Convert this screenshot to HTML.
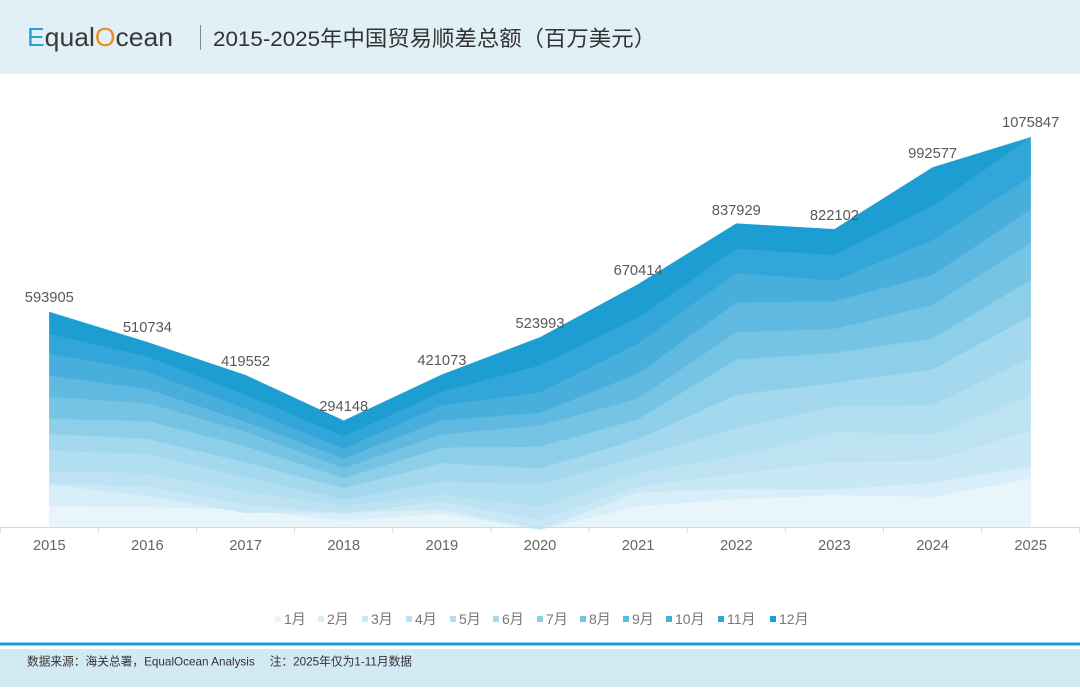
<!DOCTYPE html>
<html>
<head>
<meta charset="utf-8">
<style>
  html, body { margin: 0; padding: 0; background: #ffffff; }
  #wrap { width: 1080px; height: 697px; position: relative; overflow: hidden; background: #ffffff; }
  svg { display: block; }
  .cjk { font-family: "Liberation Sans", "Noto Sans CJK SC", sans-serif; }
</style>
</head>
<body>
<div id="wrap">
<svg width="1080" height="697" viewBox="0 0 1080 697" xmlns="http://www.w3.org/2000/svg">
  <!-- Header -->
  <rect x="0" y="0" width="1080" height="74" fill="#e1eff7"/>
  <text x="27" y="46" font-family="Liberation Sans, sans-serif" font-size="26" fill="#3a3a3a" textLength="146" lengthAdjust="spacingAndGlyphs"><tspan fill="#2a9fd8">E</tspan>qual<tspan fill="#f08c1e">O</tspan>cean</text>
  <line x1="200.5" y1="25" x2="200.5" y2="50" stroke="#8a8a8a" stroke-width="1"/>
  <text class="cjk" x="213" y="46" font-size="21.5" fill="#333333" textLength="443" lengthAdjust="spacingAndGlyphs">2015-2025年中国贸易顺差总额（百万美元）</text>

  <!-- Stacked areas -->
  <g id="areas"></g>

  <!-- Axis -->
  <line x1="0" y1="527.5" x2="1080" y2="527.5" stroke="#d9d9d9" stroke-width="1"/>
  <g stroke="#d9d9d9" stroke-width="1">
    <line x1="0.5" y1="527" x2="0.5" y2="533"/>
    <line x1="98.4" y1="527" x2="98.4" y2="533"/>
    <line x1="196.5" y1="527" x2="196.5" y2="533"/>
    <line x1="294.6" y1="527" x2="294.6" y2="533"/>
    <line x1="392.8" y1="527" x2="392.8" y2="533"/>
    <line x1="490.9" y1="527" x2="490.9" y2="533"/>
    <line x1="589.1" y1="527" x2="589.1" y2="533"/>
    <line x1="687.2" y1="527" x2="687.2" y2="533"/>
    <line x1="785.3" y1="527" x2="785.3" y2="533"/>
    <line x1="883.5" y1="527" x2="883.5" y2="533"/>
    <line x1="981.6" y1="527" x2="981.6" y2="533"/>
    <line x1="1079.5" y1="527" x2="1079.5" y2="533"/>
  </g>
  <g font-family="Liberation Sans, sans-serif" font-size="14.7" fill="#666666" text-anchor="middle">
    <text x="49.3" y="550">2015</text>
    <text x="147.4" y="550">2016</text>
    <text x="245.6" y="550">2017</text>
    <text x="343.7" y="550">2018</text>
    <text x="441.9" y="550">2019</text>
    <text x="540" y="550">2020</text>
    <text x="638.1" y="550">2021</text>
    <text x="736.3" y="550">2022</text>
    <text x="834.4" y="550">2023</text>
    <text x="932.6" y="550">2024</text>
    <text x="1030.7" y="550">2025</text>
  </g>

  <!-- Data labels -->
  <g font-family="Liberation Sans, sans-serif" font-size="14.7" fill="#595959" text-anchor="middle">
    <text x="49.3" y="302">593905</text>
    <text x="147.4" y="332">510734</text>
    <text x="245.6" y="366">419552</text>
    <text x="343.7" y="411">294148</text>
    <text x="441.9" y="365">421073</text>
    <text x="540" y="328">523993</text>
    <text x="638.1" y="275">670414</text>
    <text x="736.3" y="215">837929</text>
    <text x="834.4" y="220">822102</text>
    <text x="932.6" y="158">992577</text>
    <text x="1030.7" y="127">1075847</text>
  </g>

  <!-- Legend -->
  <g class="cjk" font-size="14" fill="#777777">
    <rect x="275" y="616" width="6" height="6" fill="#e8f5fa"/><text x="284" y="624">1月</text>
    <rect x="318" y="616" width="6" height="6" fill="#d8eef8"/><text x="327" y="624">2月</text>
    <rect x="362" y="616" width="6" height="6" fill="#c9e8f5"/><text x="371" y="624">3月</text>
    <rect x="406" y="616" width="6" height="6" fill="#bde3f2"/><text x="415" y="624">4月</text>
    <rect x="450" y="616" width="6" height="6" fill="#b1def0"/><text x="459" y="624">5月</text>
    <rect x="493" y="616" width="6" height="6" fill="#a4d8ee"/><text x="502" y="624">6月</text>
    <rect x="537" y="616" width="6" height="6" fill="#8dcee9"/><text x="546" y="624">7月</text>
    <rect x="580" y="616" width="6" height="6" fill="#76c4e4"/><text x="589" y="624">8月</text>
    <rect x="623" y="616" width="6" height="6" fill="#5fb9e0"/><text x="632" y="624">9月</text>
    <rect x="666" y="616" width="6" height="6" fill="#48afdc"/><text x="675" y="624">10月</text>
    <rect x="718" y="616" width="6" height="6" fill="#32a6d8"/><text x="727" y="624">11月</text>
    <rect x="770" y="616" width="6" height="6" fill="#1c9ed3"/><text x="779" y="624">12月</text>
  </g>

  <!-- Footer -->
  <rect x="0" y="642.5" width="1080" height="3" fill="#1e9dd8"/>
  <rect x="0" y="649" width="1080" height="38" fill="#d3eaf4"/>
  <text class="cjk" x="27" y="665.5" font-size="12" fill="#333333" textLength="385" lengthAdjust="spacingAndGlyphs">数据来源：海关总署，EqualOcean Analysis　 注：2025年仅为1-11月数据</text>
</svg>
</div>
<script>
(function(){
  var X = [49.3,147.44,245.58,343.72,441.86,540,638.14,736.28,834.42,932.56,1030.7];
  var base = 527.3;
  var rows = [
    [506,506.7,509.5,520.5,513.4,529.8,506,499,495,496.7,478.3],
    [484.4,496,512.7,512.2,509.5,529.3,492.3,488.8,489.3,482.7,466.7],
    [483.3,486.5,504.4,513.5,501.5,520,486.5,473.5,461.7,460.7,430],
    [471,473,491.3,505.5,494.5,506.7,472.5,455.8,431.7,434.3,395],
    [450.3,454,477.1,499,481.3,484.3,456.8,428,406.7,405,357.7],
    [433.7,438.7,462.3,488,463,468.3,439,394.7,382.7,369.3,316],
    [418.5,421,446.1,478,447.5,446.5,419,359.5,352.7,338.3,280],
    [396.8,403,431.6,468,434.4,425.3,398.3,332,328.7,305,242.7],
    [375.5,389,421.7,458.5,420.2,412.7,373.5,302.5,301,275,209.3],
    [353.3,371.8,408.5,448.5,405.2,392.3,343.3,273,280.7,240,176.7],
    [333.8,356.5,394.8,436.3,391.7,365.2,317.7,248.5,255,206,137.3],
    [312,342.2,375.2,420.7,374.7,337.4,284.3,223.6,229.3,167.5,137.3]
  ];
  var colors = ["#e8f5fa","#d8eef8","#c9e8f5","#bde3f2","#b1def0","#a4d8ee","#8dcee9","#76c4e4","#5fb9e0","#48afdc","#32a6d8","#1c9ed3"];
  var g = document.getElementById('areas');
  var ns = "http://www.w3.org/2000/svg";
  for (var i=0;i<12;i++){
    var pts = [];
    for (var k=0;k<11;k++) pts.push(X[k]+","+rows[i][k]);
    for (var k=10;k>=0;k--) pts.push(X[k]+","+(i===0?base:rows[i-1][k]));
    var p = document.createElementNS(ns,"polygon");
    p.setAttribute("points", pts.join(" "));
    p.setAttribute("fill", colors[i]);
    p.setAttribute("stroke", colors[i]);
    p.setAttribute("stroke-width", "0.4");
    g.appendChild(p);
  }
})();
</script>
</body>
</html>
